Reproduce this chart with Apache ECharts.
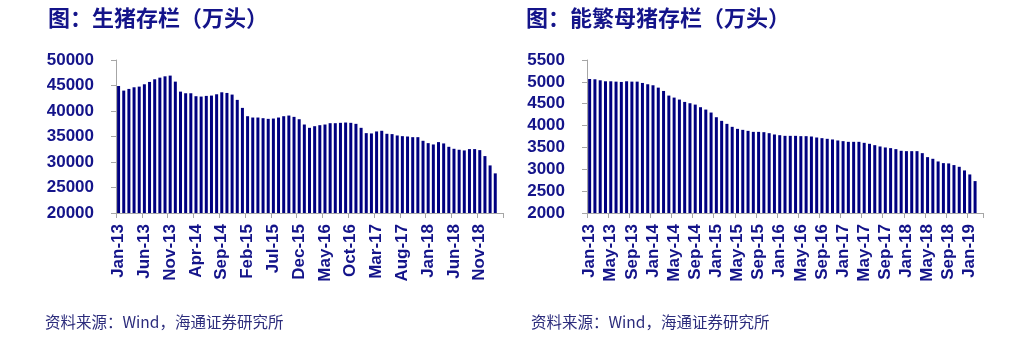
<!DOCTYPE html>
<html>
<head>
<meta charset="utf-8">
<script src="https://cdn.jsdelivr.net/npm/echarts@6/dist/echarts.min.js"></script>
<style>
html,body{margin:0;padding:0;background:#fff;}
#c{width:1010px;height:359px;}
</style>
</head>
<body>
<div id="c"></div>
<script>
// Month categories Jan-13 .. Mar-19 (last slot empty on both axes)
const months = [
 'Jan-13','Feb-13','Mar-13','Apr-13','May-13','Jun-13','Jul-13','Aug-13','Sep-13','Oct-13','Nov-13','Dec-13',
 'Jan-14','Feb-14','Mar-14','Apr-14','May-14','Jun-14','Jul-14','Aug-14','Sep-14','Oct-14','Nov-14','Dec-14',
 'Jan-15','Feb-15','Mar-15','Apr-15','May-15','Jun-15','Jul-15','Aug-15','Sep-15','Oct-15','Nov-15','Dec-15',
 'Jan-16','Feb-16','Mar-16','Apr-16','May-16','Jun-16','Jul-16','Aug-16','Sep-16','Oct-16','Nov-16','Dec-16',
 'Jan-17','Feb-17','Mar-17','Apr-17','May-17','Jun-17','Jul-17','Aug-17','Sep-17','Oct-17','Nov-17','Dec-17',
 'Jan-18','Feb-18','Mar-18','Apr-18','May-18','Jun-18','Jul-18','Aug-18','Sep-18','Oct-18','Nov-18','Dec-18',
 'Jan-19','Feb-19','Mar-19'
];

// 生猪存栏（万头）
const hogInventory = [
 44900,44000,44330,44650,44780,45240,45700,46220,46540,46800,46940,45760,
 43800,43480,43480,42900,42830,42960,43020,43280,43670,43540,43220,42180,
 40610,38980,38720,38720,38590,38460,38520,38720,38980,39110,38850,38390,
 37350,36700,37020,37220,37350,37610,37610,37680,37740,37680,37480,36700,
 35660,35600,35990,36120,35530,35470,35200,35070,35000,34870,34870,34160,
 33700,33440,33900,33640,32980,32590,32400,32270,32530,32530,32330,31160,
 29330,27770
];

// 能繁母猪存栏（万头）
const sowInventory = [
 5066,5059,5036,5013,5013,5005,4998,5013,5005,5005,4975,4945,
 4922,4868,4792,4686,4640,4595,4541,4511,4480,4420,4366,4298,
 4191,4108,4039,3971,3925,3902,3879,3856,3856,3849,3826,3796,
 3780,3765,3765,3765,3758,3758,3750,3727,3712,3697,3682,3659,
 3644,3628,3628,3628,3605,3583,3552,3522,3499,3484,3461,3423,
 3415,3415,3415,3369,3278,3240,3179,3141,3134,3096,3057,2974,
 2882,2730
];

const titles = ['图：生猪存栏（万头）', '图：能繁母猪存栏（万头）'];
const sourceNote = '资料来源：Wind，海通证券研究所';

const navy = '#000080';
const textNavy = '#14148a';
const axisGray = '#a6a6a6';
const latin = "'Liberation Sans', Arial, sans-serif";
const cjk = "'Noto Sans CJK SC', sans-serif";

function xAxisCfg(gridIndex, step) {
  return {
    type: 'category', gridIndex: gridIndex, data: months, boundaryGap: true,
    axisLine: {lineStyle: {color: axisGray, width: 1}},
    axisTick: {show: true, length: 5, interval: step - 1, lineStyle: {color: axisGray}},
    axisLabel: {interval: step - 1, rotate: 90, margin: 11, color: textNavy,
      fontFamily: latin, fontWeight: 'bold', fontSize: 17},
    splitLine: {show: false}
  };
}
function yAxisCfg(gridIndex, min, max, interval) {
  return {
    type: 'value', gridIndex: gridIndex, min: min, max: max, interval: interval,
    axisLine: {show: true, lineStyle: {color: axisGray, width: 1}},
    axisTick: {show: true, length: 5, lineStyle: {color: axisGray}},
    axisLabel: {margin: 22, color: textNavy, fontFamily: latin, fontWeight: 'bold', fontSize: 17,
      formatter: function (v) { return String(v); }},
    splitLine: {show: false}
  };
}

const chart = echarts.init(document.getElementById('c'), null, {renderer: 'canvas'});
chart.setOption({
  animation: false,
  backgroundColor: '#ffffff',
  title: [
    {text: titles[0], left: 48, top: 7, padding: 0,
     textStyle: {fontFamily: cjk, fontWeight: 'bold', fontSize: 22, color: textNavy}},
    {text: titles[1], left: 526, top: 7, padding: 0,
     textStyle: {fontFamily: cjk, fontWeight: 'bold', fontSize: 22, color: textNavy}},
    {text: sourceNote, left: 45, top: 314, padding: 0,
     textStyle: {fontFamily: cjk, fontWeight: 'normal', fontSize: 15.5, color: '#2c2c7c'}},
    {text: sourceNote, left: 531, top: 314, padding: 0,
     textStyle: {fontFamily: cjk, fontWeight: 'normal', fontSize: 15.5, color: '#2c2c7c'}}
  ],
  grid: [
    {left: 116, top: 60, width: 387, height: 153},
    {left: 587, top: 60, width: 396, height: 153}
  ],
  xAxis: [xAxisCfg(0, 5), xAxisCfg(1, 4)],
  yAxis: [yAxisCfg(0, 20000, 50000, 5000), yAxisCfg(1, 2000, 5500, 500)],
  series: [
    {type: 'bar', xAxisIndex: 0, yAxisIndex: 0, data: hogInventory, barWidth: 3,
     itemStyle: {color: navy}},
    {type: 'bar', xAxisIndex: 1, yAxisIndex: 1, data: sowInventory, barWidth: 3,
     itemStyle: {color: navy}}
  ]
});
</script>
</body>
</html>
